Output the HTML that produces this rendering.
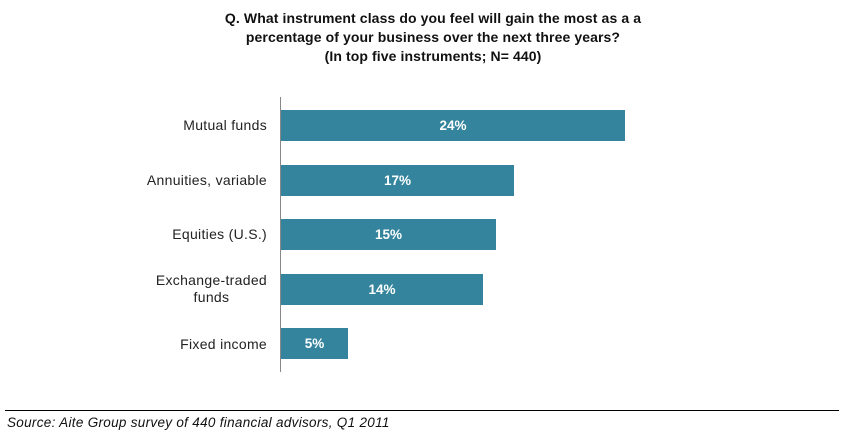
<!DOCTYPE html>
<html><head><style>
body{margin:0;width:851px;height:440px;background:#fff;position:relative;font-family:"Liberation Sans",Arial,sans-serif;overflow:hidden}
.t{position:absolute;left:0;width:866px;text-align:center;font-weight:bold;font-size:14px;color:#111;line-height:19px;top:9px;letter-spacing:0.1px}
.ax{position:absolute;left:280px;top:97px;width:1px;height:275px;background:#888}
.b{position:absolute;left:281px;height:31px;background:#33849c;color:#fff;font-weight:bold;font-size:13.5px;display:flex;align-items:center;justify-content:center}
.l{position:absolute;right:584px;font-size:14px;color:#222;text-align:center;line-height:17px;letter-spacing:0.3px}
.hr{position:absolute;left:5px;top:410px;width:834px;height:1px;background:#000}
.s{position:absolute;left:7px;top:415px;font-style:italic;font-size:13.5px;color:#111;letter-spacing:0.3px}
</style></head><body>
<div class="t">Q. What instrument class do you feel will gain the most as a a<br>percentage of your business over the next three years?<br>(In top five instruments; N= 440)</div>
<div class="ax"></div>
<div class="b" style="top:110px;width:344px">24%</div>
<div class="b" style="top:165px;width:233px">17%</div>
<div class="b" style="top:219px;width:215px">15%</div>
<div class="b" style="top:274px;width:202px">14%</div>
<div class="b" style="top:328px;width:67px">5%</div>
<div class="l" style="top:117px">Mutual funds</div>
<div class="l" style="top:172px">Annuities, variable</div>
<div class="l" style="top:226px">Equities (U.S.)</div>
<div class="l" style="top:272px">Exchange-traded<br>funds</div>
<div class="l" style="top:336px">Fixed income</div>
<div class="hr"></div>
<div class="s">Source: Aite Group survey of 440 financial advisors, Q1 2011</div>
</body></html>
